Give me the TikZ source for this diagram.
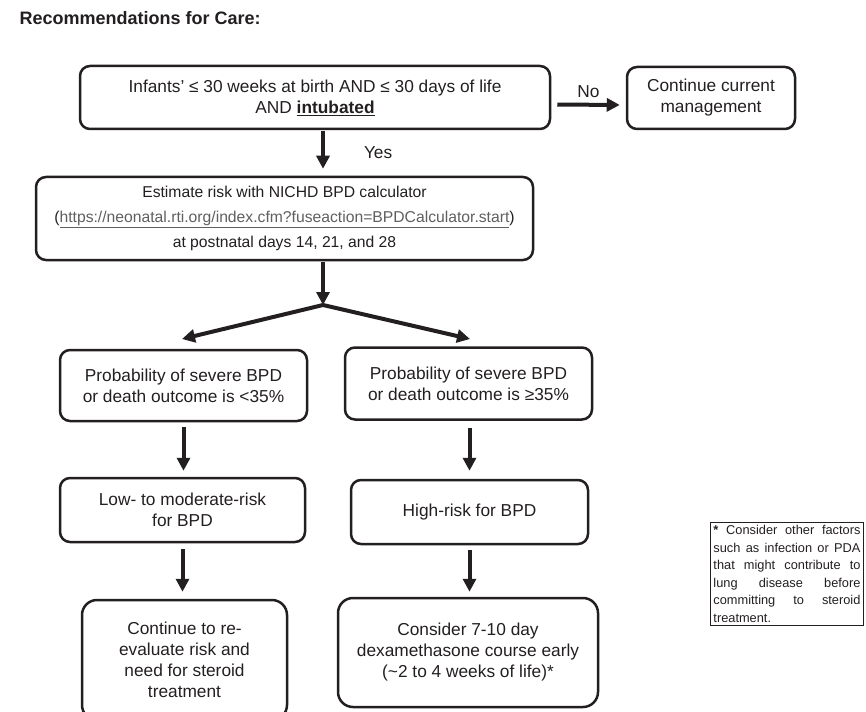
\documentclass[tikz,border=0pt]{standalone}
\usepackage{fontspec}
\setmainfont{Liberation Sans}
\usetikzlibrary{positioning,arrows.meta,calc}
\definecolor{rcInk}{RGB}{35,31,32}
\definecolor{rcLink}{RGB}{95,95,95}
\tikzset{
    base/.style={font=\fontsize{17.3}{21}\selectfont, align=center, text=rcInk},
    care/.style={base, rectangle, rounded corners=10pt, draw=rcInk, line width=2.5pt, inner sep=2pt},
    final/.style={care, rounded corners=15pt},
    note/.style={base, rectangle, draw=rcInk, line width=0.9pt, font=\fontsize{12.8}{17.5}\selectfont,
                 align=justify, inner sep=3pt},
    flow/.style={-{Triangle[length=13pt,width=13pt]}, line width=4pt, draw=rcInk},
    tag/.style={base, inner sep=1pt}
}

\begin{document}
\begin{tikzpicture}[x=1pt, y=-1pt]
  \useasboundingbox (0,0) rectangle (866,711);
  \node[base, font=\bfseries\fontsize{18}{22}\selectfont, anchor=west] (title) at (16,18) {Recommendations for Care:};

  % main path
  \node[care, minimum width=470pt, minimum height=63pt] (elig) at (315,97.5)
    {Infants’ ≤ 30 weeks at birth AND ≤ 30 days of life\\AND \underline{\textbf{intubated}}};
  \node[care, minimum width=168pt, minimum height=62pt] (cont) at (711,98) {Continue current\\management};
  \node[care, minimum width=497pt, minimum height=83pt, font=\fontsize{15.7}{25}\selectfont] (est) at (284.5,218.5)
    {Estimate risk with NICHD BPD calculator\\(\textcolor{rcLink}{\underline{https://neonatal.rti.org/index.cfm?fuseaction=BPDCalculator.start}})\\at postnatal days 14, 21, and 28};

  % two branches
  \node[care, minimum width=247pt, minimum height=71pt] (lowp) at (183.5,385.5) {Probability of severe BPD\\or death outcome is <35\%};
  \node[care, minimum width=247pt, minimum height=72pt] (highp) at (468.5,383.5) {Probability of severe BPD\\or death outcome is ≥35\%};
  \node[care, minimum width=245pt, minimum height=64pt] (lowr) at (182.5,510) {Low- to moderate-risk\\for BPD};
  \node[care, minimum width=237pt, minimum height=64pt] (highr) at (469.5,512) {High-risk for BPD};
  \node[final, minimum width=205pt, minimum height=120pt] (lowc) at (184.5,660) {Continue to re-\\evaluate risk and\\need for steroid\\treatment};
  \node[final, minimum width=260pt, minimum height=109pt] (highc) at (468,652.5) {Consider 7-10 day\\dexamethasone course early\\(\textasciitilde2 to 4 weeks of life)*};

  % footnote
  \node[note, text width=147pt, anchor=north west] (note) at (710,522)
    {\textbf{*} Consider other factors\linebreak such as infection or PDA\linebreak that might contribute to\linebreak lung disease before\linebreak committing to steroid\linebreak treatment.};

  \coordinate (fork) at (323,305);
  \coordinate (ltip) at (182,339);
  \coordinate (rtip) at (470,339);

  \draw[flow, shorten <=6pt, shorten >=6pt] ([yshift=-7pt]elig.east) -- node[tag, above=4pt] {No} ([yshift=-7pt]cont.west);
  \draw[flow, shorten <=1pt, shorten >=7pt] (elig.south -| fork) -- node[tag, right=38pt] {Yes} (est.north -| fork);
  \draw[flow, shorten <=1pt] (est.south -| fork) -- (fork);
  \draw[flow] (fork) -- (ltip);
  \draw[flow] (fork) -- (rtip);
  \draw[flow, shorten <=5pt, shorten >=6pt] (lowp.south) -- (lowp.south |- lowr.north);
  \draw[flow, shorten <=7pt, shorten >=8pt] (highr.north |- highp.south) -- (highr.north);
  \draw[flow, shorten <=6pt, shorten >=7pt] (lowr.south) -- (lowr.south |- lowc.north);
  \draw[flow, shorten <=5pt, shorten >=5pt] (highr.south) -- (highr.south |- highc.north);
\end{tikzpicture}
\end{document}
